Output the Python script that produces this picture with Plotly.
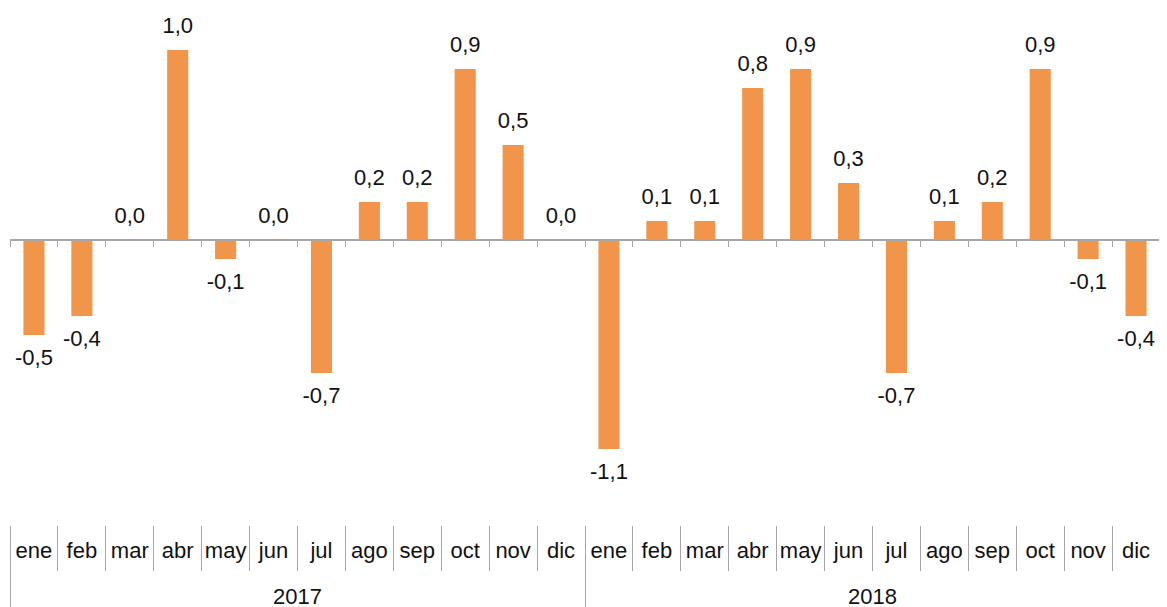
import plotly.graph_objects as go

years = ["2017"] * 12 + ["2018"] * 12
months = ["ene", "feb", "mar", "abr", "may", "jun", "jul", "ago", "sep", "oct", "nov", "dic"] * 2
values = [-0.5, -0.4, 0.0, 1.0, -0.1, 0.0, -0.7, 0.2, 0.2, 0.9, 0.5, 0.0,
          -1.1, 0.1, 0.1, 0.8, 0.9, 0.3, -0.7, 0.1, 0.2, 0.9, -0.1, -0.4]

labels = [f"{v:.1f}".replace(".", ",") for v in values]
positions = ["bottom center" if v < 0 else "top center" for v in values]
marker_sizes = [20 if v < 0 else 17 for v in values]
uniq = [f"{m} {y}" for m, y in zip(months, years)]
# an extra (blank) line under each month label pushes the year row down
month_lbl = [m + "<br>\u00a0" for m in months]

BAR = "#F0954A"
GRAY = "#A6A6A6"
FONT = "Liberation Sans, Arial, sans-serif"
ymin, ymax = -1.5, 1.2105
n = len(values)

fig = go.Figure()
fig.add_trace(go.Bar(x=[years, month_lbl], y=values, marker_color=BAR,
                     marker_line_width=0, hoverinfo="skip"))
fig.add_trace(go.Scatter(x=[years, month_lbl], y=values, text=labels, mode="markers+text",
                         textposition=positions, marker=dict(size=marker_sizes, opacity=0),
                         textfont=dict(size=22, color="#111111", family=FONT),
                         cliponaxis=False, hoverinfo="skip"))
fig.add_trace(go.Scatter(x=uniq, y=[0] * n, xaxis="x2", mode="markers",
                         marker=dict(size=1, opacity=0), hoverinfo="skip"))
fig.add_trace(go.Scatter(x=uniq, y=[0] * n, xaxis="x3", mode="markers",
                         marker=dict(size=1, opacity=0), hoverinfo="skip"))

# page body has an 8px default margin, so the figure is sized/margined to compensate
fig.update_layout(
    width=1159, height=599,
    margin=dict(l=2, r=7, t=2, b=82),
    paper_bgcolor="white", plot_bgcolor="white",
    showlegend=False, bargap=0.56,
    font=dict(family=FONT, size=22, color="#111111"),
    xaxis=dict(type="multicategory", showline=False, showgrid=False, zeroline=False,
               automargin=False, tickangle=0, range=[-0.5, n - 0.5],
               ticks="outside", tickson="boundaries", ticklen=74,
               tickcolor="rgba(0,0,0,0)", ticklabelstandoff=10,
               showdividers=True, dividercolor=GRAY, dividerwidth=1,
               tickfont=dict(size=22, family=FONT, color="#111111")),
    xaxis2=dict(type="category", overlaying="x", anchor="free", automargin=False,
                position=(0 - ymin) / (ymax - ymin), side="bottom",
                range=[-0.5, n - 0.5], showline=True, linecolor=GRAY, linewidth=1.5,
                ticks="outside", tickson="boundaries", ticklen=6, tickcolor=GRAY,
                showticklabels=False, showgrid=False, zeroline=False),
    xaxis3=dict(type="category", overlaying="x", anchor="free", automargin=False,
                position=0, side="bottom", range=[-0.5, n - 0.5], showline=False,
                ticks="outside", tickson="boundaries", ticklen=45, tickcolor=GRAY,
                tickwidth=1, showticklabels=False, showgrid=False, zeroline=False),
    yaxis=dict(range=[ymin, ymax], visible=False, showgrid=False, zeroline=False,
               automargin=False),
)

fig.write_html("out.html")
